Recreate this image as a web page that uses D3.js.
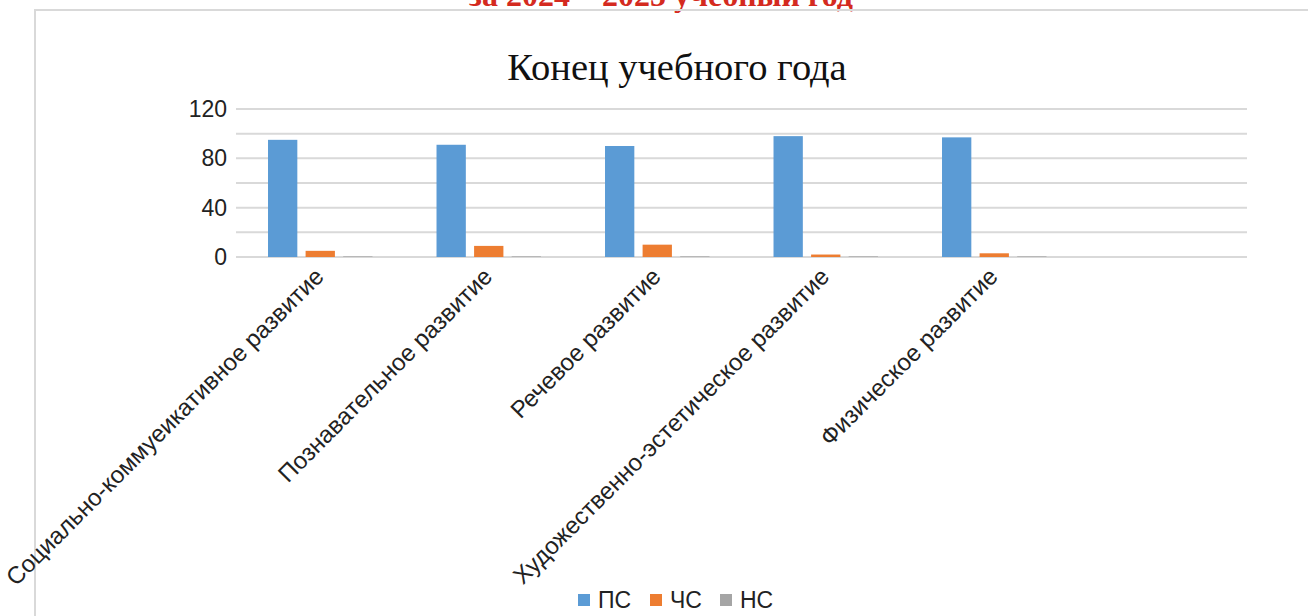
<!DOCTYPE html>
<html>
<head>
  <meta charset="utf-8">
  <title>Конец учебного года</title>
  <style>
    body { margin: 0; background: #fff; }
    .grid line { stroke: #d9d9d9; stroke-width: 2; }
    .axis-y text, .axis-x text { font-family: "Liberation Sans", Arial, sans-serif; fill: #222; }
    .legend text { font-family: "Liberation Sans", Arial, sans-serif; font-size: 23px; fill: #222; }
  </style>
  <script src="https://d3js.org/d3.v7.min.js"></script>
</head>
<body>
  <div id="chart"></div>
  <script>
    const categories = [
      "Социально-коммуеикативное развитие",
      "Познавательное развитие",
      "Речевое развитие",
      "Художественно-эстетическое развитие",
      "Физическое развитие",
      ""
    ];
    const seriesNames = ["ПС", "ЧС", "НС"];
    const psValues = [95, 91, 90, 98, 97, null];
    const chsValues = [5, 9, 10, 2, 3, null];
    const nsValues = [0.5, 0.5, 0.5, 0.5, 0.5, null];
    const yTicks = [0, 40, 80, 120];
    const colors = ["#5b9bd5", "#ed7d31", "#a5a5a5"];

    const width = 1308;
    const height = 616;
    const plot = { left: 236, right: 1247, top: 109, bottom: 257 };

    const svg = d3.select("#chart")
      .append("svg")
      .attr("width", width)
      .attr("height", height);

    // heading above the chart frame, cut by the page top
    svg.append("text")
      .attr("x", 661)
      .attr("y", 6)
      .attr("text-anchor", "middle")
      .style("font-family", "Liberation Serif, serif")
      .style("font-weight", "bold")
      .style("font-size", "32px")
      .style("fill", "#d42a20")
      .text("за 2024 – 2025 учебный год");

    // chart frame
    svg.append("rect")
      .attr("x", 35)
      .attr("y", 10)
      .attr("width", width)
      .attr("height", height)
      .attr("fill", "none")
      .attr("stroke", "#d9d9d9")
      .attr("stroke-width", 2);

    svg.append("text")
      .attr("x", 677)
      .attr("y", 80)
      .attr("text-anchor", "middle")
      .style("font-family", "Liberation Serif, serif")
      .style("font-size", "38.5px")
      .style("fill", "#111")
      .text("Конец учебного года");

    const x = d3.scaleBand()
      .domain(d3.range(categories.length))
      .range([plot.left, plot.right]);

    const xSub = d3.scaleBand()
      .domain(seriesNames)
      .range([x.bandwidth() * 0.19, x.bandwidth() * 0.81])
      .paddingInner(0.22);

    const y = d3.scaleLinear()
      .domain([0, 120])
      .range([plot.bottom, plot.top]);

    svg.append("g")
      .attr("class", "grid")
      .selectAll("line")
      .data(d3.range(0, 121, 20))
      .enter()
      .append("line")
      .attr("x1", plot.left)
      .attr("x2", plot.right)
      .attr("y1", d => y(d))
      .attr("y2", d => y(d));

    const yAxis = svg.append("g")
      .attr("class", "axis-y")
      .attr("transform", `translate(${plot.left},0)`)
      .call(d3.axisLeft(y).tickValues(yTicks).tickSize(0).tickPadding(9));
    yAxis.select(".domain").remove();
    yAxis.selectAll("text").style("font-size", "23px");

    const series = [psValues, chsValues, nsValues];
    series.forEach((vals, si) => {
      svg.append("g")
        .selectAll("rect")
        .data(vals.map((v, i) => ({ i, v })).filter(d => d.v !== null))
        .enter()
        .append("rect")
        .attr("x", d => x(d.i) + xSub(seriesNames[si]))
        .attr("width", xSub.bandwidth())
        .attr("y", d => y(d.v))
        .attr("height", d => y(0) - y(d.v))
        .attr("fill", colors[si]);
    });

    const xAxis = svg.append("g")
      .attr("class", "axis-x")
      .attr("transform", `translate(0,${plot.bottom})`)
      .call(d3.axisBottom(x).tickFormat(i => categories[i]).tickSize(0));
    xAxis.select(".domain").remove();
    xAxis.selectAll("text")
      .style("font-size", "24px")
      .attr("text-anchor", "end")
      .attr("transform", "translate(-1,15) rotate(-45)")
      .attr("dy", "0.35em")
      .attr("y", 0);

    const legend = svg.append("g")
      .attr("class", "legend")
      .attr("transform", "translate(578,600)");
    const legendOffsets = [0, 72, 142];
    seriesNames.forEach((name, i) => {
      const g = legend.append("g").attr("transform", `translate(${legendOffsets[i]},0)`);
      g.append("rect")
        .attr("x", 0).attr("y", -6)
        .attr("width", 12).attr("height", 12)
        .attr("fill", colors[i]);
      g.append("text")
        .attr("x", 20).attr("y", 8)
        .text(name);
    });
  </script>
</body>
</html>
